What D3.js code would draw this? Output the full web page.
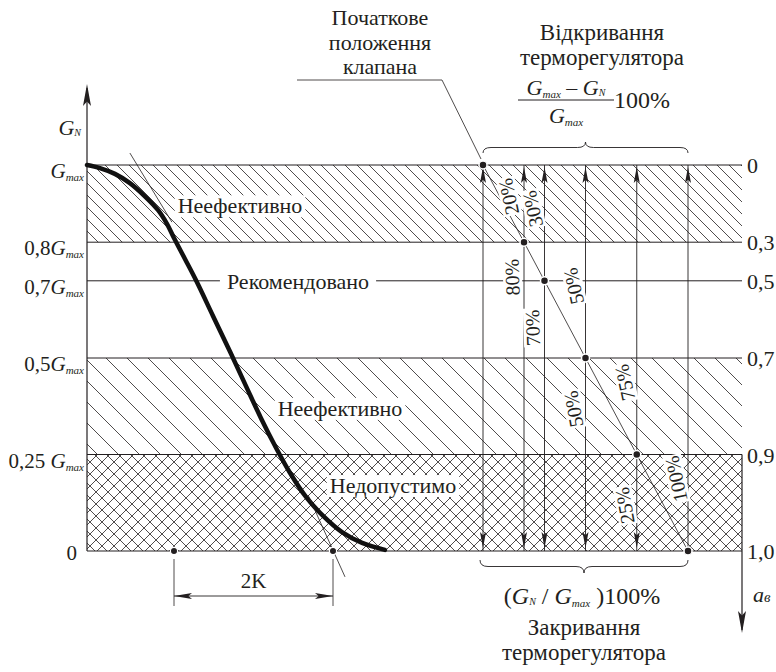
<!DOCTYPE html>
<html>
<head>
<meta charset="UTF-8">
<title>Терморегулятор: положення клапана</title>
<script src="https://cdn.jsdelivr.net/npm/d3@7"></script>
<style>
  body { margin: 0; background: #fff; }
  text { fill: #231f20; }
</style>
</head>
<body>
<svg id="chart" width="776" height="672" font-family="'Liberation Serif', 'Times New Roman', 'DejaVu Serif', serif"></svg>
<script>
// characteristic curve G_N / G_max against the horizontal axis (relative units)
var curveX = [0, 4.3, 9.3, 14.3, 19.3, 23.7, 26.7, 29, 32.7, 36.3, 42, 47.7, 53, 58, 62.7, 67.7, 73, 78.7, 85, 91.7, 99.3];
var curveG = [1.0, 0.992, 0.977, 0.953, 0.919, 0.883, 0.847, 0.811, 0.756, 0.702, 0.609, 0.516, 0.427, 0.344, 0.272, 0.202, 0.140, 0.091, 0.049, 0.021, 0.003];

// level lines, G_N / G_max
var levelG = [1, 0.8, 0.7, 0.5, 0.25, 0];
var leftLabels = ["G", "0,8G", "0,7G", "0,5G", "0,25 G", "0"];
var rightLabels = ["0", "0,3", "0,5", "0,7", "0,9", "1,0"];

// zones
var zoneTop = [1, 0.5, 0.25];
var zoneBottom = [0.8, 0.25, 0];
var zoneFill = ["hatchFine", "hatchWide", "cross"];
var zoneNames = ["Неефективно", "Неефективно", "Недопустимо"];

// valve opening at each level, %
var openPct = [0, 20, 30, 50, 75, 100];
var openLabels = ["", "20%", "30%", "50%", "75%", "100%"];
var closeLabels = ["", "80%", "70%", "50%", "25%", ""];

// tangent lines and the 2K span
var tanTop = [[14.3, 1.031], [28.3, 0.852]];
var tanBottom = [[73.7, 0.145], [86, -0.067]];
var kMarks = [29, 82];

var svg = d3.select("#chart");
var ink = "#231f20";

var x = d3.scaleLinear().domain([0, 100]).range([87, 387]);
var y = d3.scaleLinear().domain([0, 1]).range([551, 165]);
var v = d3.scaleLinear().domain([0, 100]).range([483, 688]);
var xRight = 742;

// patterns
var defs = svg.append("defs");
function diagPattern(id, s, cross) {
  var p = defs.append("pattern").attr("id", id)
    .attr("patternUnits", "userSpaceOnUse")
    .attr("width", s).attr("height", s);
  var d = "M-1,-1L" + (s + 1) + "," + (s + 1) + "M" + (s - 1) + ",-1L" + (s + 1) + ",1M-1," + (s - 1) + "L1," + (s + 1);
  if (cross) d += "M-1," + (s + 1) + "L" + (s + 1) + ",-1M-1,1L1,-1M" + (s - 1) + "," + (s + 1) + "L" + (s + 1) + "," + (s - 1);
  p.append("path").attr("d", d).attr("stroke", ink).attr("stroke-width", 0.8).attr("fill", "none");
}
diagPattern("hatchFine", 12, false);
diagPattern("hatchWide", 21, false);
diagPattern("cross", 12, true);

// arrow head pointing along +y at (0,0), rotated as needed
function arrowHead(g, cx, cy, angle, len, half) {
  g.append("path")
    .attr("d", "M0,0L" + (-half) + "," + (-len) + "L0," + (-len * 0.8) + "L" + half + "," + (-len) + "Z")
    .attr("transform", "translate(" + cx + "," + cy + ") rotate(" + angle + ")")
    .attr("fill", ink);
}

// zones
zoneTop.forEach(function (g, i) {
  svg.append("rect")
    .attr("x", x(0)).attr("y", y(g))
    .attr("width", xRight - x(0)).attr("height", y(zoneBottom[i]) - y(g))
    .attr("fill", "url(#" + zoneFill[i] + ")");
});

// level lines
svg.selectAll("line.level").data(levelG).enter().append("line")
  .attr("class", "level")
  .attr("x1", x(0)).attr("x2", xRight)
  .attr("y1", function (d) { return y(d); }).attr("y2", function (d) { return y(d); })
  .attr("stroke", ink).attr("stroke-width", 1);

// left axis
svg.append("line").attr("x1", x(0)).attr("x2", x(0)).attr("y1", 88).attr("y2", y(0))
  .attr("stroke", ink).attr("stroke-width", 1.2);
arrowHead(svg, x(0), 84, 180, 22, 4);

// right axis (a_в) below the diagram
svg.append("line").attr("x1", xRight).attr("x2", xRight).attr("y1", y(0.25)).attr("y2", 630)
  .attr("stroke", ink).attr("stroke-width", 1.2);
arrowHead(svg, xRight, 633, 0, 22, 4);

// left labels
leftLabels.forEach(function (lab, i) {
  var t = svg.append("text").attr("text-anchor", "end").attr("font-size", 21)
    .attr("x", lab === "0" ? 77 : 84).attr("y", y(levelG[i]) + (lab === "0" ? 9 : 13));
  if (lab === "0") { t.text("0"); return; }
  var num = lab.slice(0, -1);
  if (num) t.append("tspan").text(num);
  t.append("tspan").attr("font-style", "italic").text("G");
  t.append("tspan").attr("font-style", "italic").attr("font-size", 11).attr("dy", 3).text("max");
});
var gn = svg.append("text").attr("x", 81).attr("y", 135).attr("text-anchor", "end").attr("font-size", 22);
gn.append("tspan").attr("font-style", "italic").text("G");
gn.append("tspan").attr("font-style", "italic").attr("font-size", 10).attr("dy", 1).text("N");

// right labels
rightLabels.forEach(function (lab, i) {
  svg.append("text").attr("x", 747).attr("y", y(levelG[i]) + 8).attr("font-size", 22).text(lab);
});

// a_в
var av = svg.append("text").attr("x", 753).attr("y", 602).attr("font-size", 22);
av.append("tspan").attr("font-style", "italic").text("a");
av.append("tspan").attr("font-style", "italic").attr("font-size", 15).attr("dy", 0).text("в");

// label with white knock-out background
function boxedLabel(cx, cy, txt, size, rot, pad) {
  var g = svg.append("g").attr("transform", "translate(" + cx + "," + cy + ") rotate(" + (rot || 0) + ")");
  var t = g.append("text").attr("text-anchor", "middle").attr("dy", "0.35em").attr("font-size", size).text(txt);
  var b = t.node().getBBox();
  g.insert("rect", "text").attr("x", b.x - pad).attr("y", b.y + 2).attr("width", b.width + 2 * pad)
    .attr("height", b.height - 3).attr("fill", "#fff");
  return g;
}

// zone names
boxedLabel(240, y(0.9) + 2, zoneNames[0], 22, 0, 3);
boxedLabel(340, y(0.37), zoneNames[1], 22, 0, 3);
boxedLabel(393, y(0.17), zoneNames[2], 22, 0, 3);
boxedLabel(298, y(0.7), "Рекомендовано", 22, 0, 7);

// valve diagram: vertical lines with arrows
openPct.forEach(function (p, i) {
  var xx = v(p);
  svg.append("line").attr("x1", xx).attr("x2", xx).attr("y1", y(1)).attr("y2", y(0))
    .attr("stroke", ink).attr("stroke-width", 0.9);
  arrowHead(svg, xx, y(1) + 2, 180, 16, 3);
  if (p < 100) arrowHead(svg, xx, y(0) - 3, 0, 16, 3);
});

// chain of valve positions
var dots = openPct.map(function (p, i) { return [v(p), y(levelG[i])]; });
svg.append("path").attr("d", d3.line()(dots)).attr("fill", "none").attr("stroke", ink).attr("stroke-width", 0.8);

// percentage labels
openLabels.forEach(function (lab, i) {
  if (!lab) return;
  var dx = dots[i][0] - 12, dy = dots[i][1] - (i === 1 ? 46 : 72);
  if (i === 1) { dx = (dots[0][0] + dots[1][0]) / 2 + 5; dy = (dots[0][1] + dots[1][1]) / 2 - 7; }
  boxedLabel(dx, dy, lab, 20, -102, 1);
});
closeLabels.forEach(function (lab, i) {
  if (!lab) return;
  var off = i === 1 ? 35 : (i === 2 ? 47 : 51);
  boxedLabel(dots[i][0] - 12, dots[i][1] + off, lab, 20, i < 3 ? -92 : -100, 1);
});

// dots
svg.selectAll("circle.valve").data(dots).enter().append("circle")
  .attr("class", "valve")
  .attr("cx", function (d) { return d[0]; }).attr("cy", function (d) { return d[1]; })
  .attr("r", 4).attr("fill", ink).attr("stroke", "#fff").attr("stroke-width", 1.5);

// curve
var line = d3.line().curve(d3.curveCatmullRom)
  .x(function (d, i) { return x(curveX[i]); })
  .y(function (d, i) { return y(curveG[i]); });
svg.append("path").datum(curveX).attr("d", line)
  .attr("fill", "none").attr("stroke", "#111").attr("stroke-width", 4.5).attr("stroke-linecap", "round");

// tangents
[tanTop, tanBottom].forEach(function (t) {
  svg.append("line")
    .attr("x1", x(t[0][0])).attr("y1", y(t[0][1]))
    .attr("x2", x(t[1][0])).attr("y2", y(t[1][1]))
    .attr("stroke", ink).attr("stroke-width", 0.8);
});

// 2K
kMarks.forEach(function (k) {
  svg.append("circle").attr("cx", x(k)).attr("cy", y(0)).attr("r", 3.6).attr("fill", ink)
    .attr("stroke", "#fff").attr("stroke-width", 1.2);
  svg.append("line").attr("x1", x(k)).attr("x2", x(k)).attr("y1", y(0) + 8).attr("y2", 606)
    .attr("stroke", ink).attr("stroke-width", 0.8);
});
svg.append("line").attr("x1", x(kMarks[0])).attr("x2", x(kMarks[1])).attr("y1", 596).attr("y2", 596)
  .attr("stroke", ink).attr("stroke-width", 0.9);
arrowHead(svg, x(kMarks[0]), 596, 90, 18, 3);
arrowHead(svg, x(kMarks[1]), 596, -90, 18, 3);
svg.append("text").attr("x", (x(kMarks[0]) + x(kMarks[1])) / 2).attr("y", 588)
  .attr("text-anchor", "middle").attr("font-size", 21).text("2K");

// braces
function brace(x1, x2, y0, d, dir) {
  var xm = (x1 + x2) / 2, h = y0 + dir * d / 2, tip = y0 + dir * d, q = 8;
  return "M" + x1 + "," + y0 + "Q" + x1 + "," + h + " " + (x1 + q) + "," + h +
    "L" + (xm - q) + "," + h + "Q" + xm + "," + h + " " + xm + "," + tip +
    "Q" + xm + "," + h + " " + (xm + q) + "," + h +
    "L" + (x2 - q) + "," + h + "Q" + x2 + "," + h + " " + x2 + "," + y0;
}
svg.append("path").attr("d", brace(v(0), v(100), 153, 11, -1)).attr("fill", "none").attr("stroke", ink).attr("stroke-width", 0.9);
svg.append("path").attr("d", brace(v(0) - 3, v(100), 560, 13, 1)).attr("fill", "none").attr("stroke", ink).attr("stroke-width", 0.9);

// top annotations
["Початкове", "положення", "клапана"].forEach(function (s, i) {
  svg.append("text").attr("x", 380).attr("y", 25 + i * 24.5).attr("text-anchor", "middle").attr("font-size", 22).text(s);
});
svg.append("path").attr("d", "M297,80L442,80L" + (v(0) - 2) + "," + (y(1) - 6))
  .attr("fill", "none").attr("stroke", ink).attr("stroke-width", 0.8);

["Відкривання", "терморегулятора"].forEach(function (s, i) {
  svg.append("text").attr("x", 602).attr("y", 40 + i * 25).attr("text-anchor", "middle").attr("font-size", 23).text(s);
});
var num = svg.append("text").attr("x", 566).attr("y", 95).attr("text-anchor", "middle").attr("font-size", 22);
num.append("tspan").attr("font-style", "italic").text("G");
num.append("tspan").attr("font-style", "italic").attr("font-size", 11).attr("dy", 3).text("max");
num.append("tspan").attr("dy", -3).text(" – ");
num.append("tspan").attr("font-style", "italic").text("G");
num.append("tspan").attr("font-style", "italic").attr("font-size", 10).attr("dy", 1).text("N");
svg.append("line").attr("x1", 518).attr("x2", 614).attr("y1", 100).attr("y2", 100).attr("stroke", ink).attr("stroke-width", 1);
var den = svg.append("text").attr("x", 566).attr("y", 123).attr("text-anchor", "middle").attr("font-size", 22);
den.append("tspan").attr("font-style", "italic").text("G");
den.append("tspan").attr("font-style", "italic").attr("font-size", 11).attr("dy", 3).text("max");
svg.append("text").attr("x", 614).attr("y", 108).attr("font-size", 24).text("100%");

// bottom annotations
var bt = svg.append("text").attr("x", 582).attr("y", 604).attr("text-anchor", "middle").attr("font-size", 24);
bt.append("tspan").text("(");
bt.append("tspan").attr("font-style", "italic").text("G");
bt.append("tspan").attr("font-style", "italic").attr("font-size", 10).attr("dy", 1).text("N");
bt.append("tspan").attr("dy", -1).text(" / ");
bt.append("tspan").attr("font-style", "italic").text("G");
bt.append("tspan").attr("font-style", "italic").attr("font-size", 11).attr("dy", 3).text("max");
bt.append("tspan").attr("dy", -3).text(" )100%");
["Закривання", "терморегулятора"].forEach(function (s, i) {
  svg.append("text").attr("x", 584).attr("y", 635 + i * 25).attr("text-anchor", "middle").attr("font-size", 23).text(s);
});
</script>
</body>
</html>
